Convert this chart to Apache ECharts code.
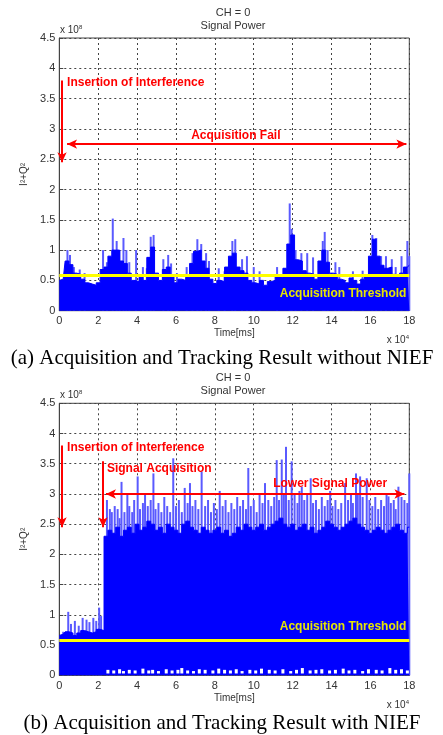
<!DOCTYPE html>
<html>
<head>
<meta charset="utf-8">
<script src="https://cdn.jsdelivr.net/npm/echarts@6/dist/echarts.min.js"></script>
<style>
html, body { margin: 0; padding: 0; background: #fff; }
#chart { width: 443px; height: 735px; }
</style>
</head>
<body>
<div id="chart"></div>
<script>
// time in units of 1e4 ms, power (I^2+Q^2) in units of 1e8
var bodyStep = 0.2;

// (a) without NIEF: dense part of the trace, one value every 0.2
var topBody = [0.5, 0.52, 0.82, 0.76, 0.62, 0.6, 0.52, 0.46, 0.44, 0.42,
    0.46, 0.68, 0.72, 0.9, 1.0, 1.0, 0.82, 0.78, 0.62, 0.5,
    0.48, 0.55, 0.5, 0.88, 1.05, 0.62, 0.5, 0.68, 0.72, 0.56,
    0.46, 0.52, 0.5, 0.55, 0.78, 0.98, 1.0, 0.82, 0.7, 0.52,
    0.45, 0.5, 0.48, 0.72, 0.9, 0.95, 0.72, 0.66, 0.62, 0.5,
    0.46, 0.44, 0.5, 0.42, 0.48, 0.5, 0.56, 0.55, 0.7, 1.1,
    1.25, 0.84, 0.82, 0.66, 0.62, 0.6, 0.52, 0.82, 1.0, 0.8,
    0.62, 0.6, 0.52, 0.5, 0.46, 0.54, 0.5, 0.44, 0.52, 0.58,
    0.9, 1.18, 0.9, 0.75, 0.7, 0.72, 0.6, 0.55, 0.62, 0.72, 0.75];

// (a) isolated peaks [time, power]
var topSpikes = [[0.42, 1.0], [0.55, 0.92], [0.75, 0.72], [1.05, 0.68], [1.3, 0.62],
    [2.25, 1.0], [2.45, 0.8], [2.75, 1.52], [2.95, 1.15], [3.1, 1.0], [3.3, 1.2],
    [3.45, 1.0], [3.6, 0.8], [3.95, 1.0], [4.3, 0.72], [4.5, 0.7], [4.7, 1.22],
    [4.85, 1.25], [5.35, 0.85], [5.6, 0.92], [5.75, 0.78], [6.05, 0.62], [6.55, 0.72],
    [6.85, 0.95], [7.1, 1.18], [7.3, 1.1], [7.55, 0.95], [7.7, 0.82], [8.2, 0.7],
    [8.5, 0.65], [8.9, 1.15], [9.05, 1.18], [9.4, 0.85], [9.65, 0.9], [10.0, 0.72],
    [10.3, 0.65], [11.2, 0.72], [11.85, 1.77], [11.95, 1.35], [12.15, 1.0], [12.45, 0.95],
    [12.75, 0.95], [13.05, 0.88], [13.55, 1.15], [13.65, 1.3], [13.8, 1.0], [14.2, 0.8],
    [14.4, 0.72], [15.1, 0.65], [15.6, 0.66], [16.1, 1.25], [16.3, 1.2], [16.55, 0.9],
    [16.8, 0.9], [17.1, 0.85], [17.3, 0.72], [17.6, 0.9], [17.9, 1.15], [18.0, 0.9]];

// (b) with NIEF: dense part of the trace, one value every 0.2
var botBody = [0.66, 0.68, 0.72, 0.7, 0.66, 0.7, 0.74, 0.72, 0.7, 0.72,
    0.76, 0.74, 2.3, 2.4, 2.35, 2.45, 2.3, 2.4, 2.45, 2.35,
    2.5, 2.4, 2.45, 2.55, 2.5, 2.4, 2.45, 2.35, 2.5, 2.45,
    2.4, 2.35, 2.5, 2.55, 2.45, 2.4, 2.35, 2.45, 2.4, 2.35,
    2.4, 2.45, 2.35, 2.4, 2.3, 2.35, 2.45, 2.4, 2.5, 2.45,
    2.4, 2.45, 2.5, 2.4, 2.45, 2.5, 2.55, 2.6, 2.5, 2.45,
    2.5, 2.4, 2.45, 2.5, 2.4, 2.45, 2.35, 2.4, 2.45, 2.55,
    2.5, 2.45, 2.4, 2.45, 2.5, 2.55, 2.6, 2.5, 2.45, 2.4,
    2.35, 2.4, 2.45, 2.4, 2.35, 2.4, 2.45, 2.5, 2.4, 2.35, 2.45];

// (b) isolated peaks [time, power]
var botSpikes = [[0.2, 0.72], [0.46, 1.05], [0.6, 0.85], [0.8, 0.9], [1.0, 0.82], [1.2, 0.95],
    [1.4, 0.92], [1.55, 0.88], [1.75, 0.95], [1.9, 0.9], [2.05, 1.12], [2.15, 0.98],
    [2.45, 2.9], [2.6, 2.75], [2.7, 2.7], [2.85, 2.8], [3.0, 2.75], [3.1, 2.6], [3.2, 3.2],
    [3.35, 2.7], [3.5, 3.0], [3.6, 2.8], [3.75, 2.7], [3.85, 2.9], [4.03, 3.29], [4.15, 2.75],
    [4.3, 2.85], [4.41, 3.0], [4.55, 2.8], [4.7, 2.9], [4.84, 3.34], [4.95, 2.75], [5.1, 2.85],
    [5.25, 2.7], [5.4, 2.95], [5.55, 2.8], [5.7, 2.7], [5.86, 3.59], [6.0, 2.8], [6.15, 2.9],
    [6.3, 2.7], [6.45, 3.1], [6.6, 2.85], [6.72, 3.18], [6.85, 2.8], [7.0, 2.9], [7.15, 2.75],
    [7.32, 3.37], [7.5, 2.8], [7.65, 2.9], [7.8, 2.7], [7.95, 2.85], [8.1, 2.75], [8.25, 3.05],
    [8.4, 2.8], [8.55, 2.9], [8.7, 2.7], [8.85, 2.85], [9.0, 2.75], [9.15, 2.95], [9.3, 2.8],
    [9.45, 2.9], [9.6, 2.75], [9.72, 3.43], [9.85, 2.8], [10.0, 2.9], [10.15, 2.7], [10.3, 3.0],
    [10.45, 2.85], [10.58, 3.18], [10.75, 2.9], [10.9, 2.8], [11.05, 2.95], [11.18, 3.56],
    [11.3, 2.9], [11.44, 3.57], [11.55, 3.0], [11.66, 3.78], [11.8, 2.9], [11.95, 3.54],
    [12.1, 3.0], [12.25, 2.85], [12.35, 3.05], [12.47, 3.12], [12.6, 2.9], [12.75, 3.0],
    [12.93, 3.26], [13.05, 2.85], [13.2, 2.9], [13.35, 2.75], [13.5, 2.95], [13.65, 2.8],
    [13.8, 2.9], [13.93, 3.05], [14.05, 2.8], [14.2, 2.9], [14.35, 2.75], [14.5, 2.85],
    [14.7, 3.18], [14.85, 2.9], [15.0, 3.0], [15.1, 2.85], [15.26, 3.34], [15.35, 3.0],
    [15.47, 3.29], [15.6, 2.95], [15.81, 3.26], [15.95, 2.9], [16.1, 2.8], [16.25, 2.95],
    [16.4, 2.75], [16.55, 2.9], [16.7, 2.8], [16.83, 3.0], [16.93, 2.96], [17.05, 2.85],
    [17.2, 2.9], [17.3, 2.75], [17.44, 3.12], [17.6, 2.95], [17.75, 2.9], [17.9, 2.85], [18.0, 3.34]];

// (b) white gaps near zero after acquisition
var troughX = [2.5, 2.8, 3.1, 3.3, 3.6, 3.9, 4.3, 4.6, 4.8, 5.1, 5.5, 5.8, 6.1, 6.3, 6.6, 6.9,
    7.2, 7.5, 7.9, 8.2, 8.5, 8.8, 9.1, 9.4, 9.8, 10.1, 10.4, 10.8, 11.1, 11.5, 11.9, 12.2,
    12.5, 12.9, 13.2, 13.5, 13.9, 14.2, 14.6, 14.9, 15.2, 15.6, 15.9, 16.3, 16.6, 17.0, 17.3,
    17.6, 17.9];
var troughH = [0.06, 0.05, 0.07, 0.04, 0.06, 0.05, 0.08, 0.05, 0.06, 0.04, 0.07, 0.05, 0.06,
    0.09, 0.05, 0.04, 0.07, 0.06, 0.05, 0.08, 0.06, 0.05, 0.07, 0.04, 0.06, 0.05, 0.08, 0.06,
    0.05, 0.07, 0.04, 0.06, 0.09, 0.05, 0.06, 0.07, 0.05, 0.06, 0.08, 0.05, 0.06, 0.04, 0.07,
    0.06, 0.05, 0.09, 0.06, 0.07, 0.05];
var troughBase = 0.03;

var threshold = 0.585;
var captions = ['(a) Acquisition and Tracking Result without NIEF',
    '(b) Acquisition and Tracking Result with NIEF'];

var chart = echarts.init(document.getElementById('chart'));

function pairs(vals) {
    return vals.map(function (v, i) { return [+(i * bodyStep).toFixed(2), v]; });
}

var axisFont = { fontSize: 11, color: '#333', fontFamily: 'Liberation Sans, Arial, sans-serif' };
var redLabel = { color: '#ff0000', fontWeight: 'bold', fontSize: 12, fontFamily: 'Liberation Sans, Arial, sans-serif' };
var yellowLabel = { color: '#e6e600', fontWeight: 'bold', fontSize: 12, fontFamily: 'Liberation Sans, Arial, sans-serif' };

function xAxisFor(i) {
    return {
        type: 'value', gridIndex: i, min: 0, max: 18, interval: 2,
        name: 'Time[ms]', nameLocation: 'middle', nameGap: 18,
        nameTextStyle: { fontSize: 10, color: '#333' },
        axisLine: { show: true, lineStyle: { color: '#444' } },
        axisTick: { show: true, inside: true, length: 4, lineStyle: { color: '#444' } },
        axisLabel: Object.assign({ margin: 5 }, axisFont),
        splitLine: { show: true, lineStyle: { color: '#444', type: [2, 3], width: 1 } }
    };
}
function yAxisFor(i) {
    return {
        type: 'value', gridIndex: i, min: 0, max: 4.5, interval: 0.5,
        name: 'I\u00b2+Q\u00b2', nameLocation: 'middle', nameGap: 28,
        nameTextStyle: { fontSize: 10, color: '#333' },
        axisLine: { show: true, lineStyle: { color: '#444' } },
        axisTick: { show: true, inside: true, length: 4, lineStyle: { color: '#444' } },
        axisLabel: Object.assign({ margin: 4 }, axisFont),
        splitLine: { show: true, lineStyle: { color: '#444', type: [2, 3], width: 1 } }
    };
}

function arrow(x1, y1, x2, y2, both) {
    var ls = { color: '#ff0000', width: 2, type: 'solid' };
    return [
        { coord: [x1, y1], symbol: both ? 'arrow' : 'none', symbolSize: [7, 10], lineStyle: ls },
        { coord: [x2, y2], symbol: 'arrow', symbolSize: [7, 10], lineStyle: ls }
    ];
}
function note(x, y, text, pos, style) {
    return {
        coord: [x, y], symbol: 'circle', symbolSize: 0,
        label: Object.assign({ show: true, position: pos, distance: 0, formatter: text }, style)
    };
}
var thresholdLine = { yAxis: threshold, symbol: 'none', lineStyle: { color: '#ffff00', width: 3, type: 'solid' } };

function bodySeries(i, vals, lines, notes) {
    return {
        type: 'line', xAxisIndex: i, yAxisIndex: i, data: pairs(vals), step: 'middle',
        showSymbol: false, silent: true,
        lineStyle: { color: '#0000ff', width: 1 },
        areaStyle: { color: '#0000ff', opacity: 1 },
        markLine: { silent: true, symbol: 'none', label: { show: false }, data: [thresholdLine].concat(lines) },
        markPoint: { silent: true, itemStyle: { color: 'transparent' }, data: notes }
    };
}
function spikeSeries(i, data) {
    return {
        type: 'bar', xAxisIndex: i, yAxisIndex: i, data: data, barWidth: 2,
        itemStyle: { color: '#5a5aff' }, silent: true
    };
}

var option = {
    animation: false,
    grid: [
        { left: 59.3, top: 38, width: 350, height: 272.7, show: true, borderColor: '#444', borderWidth: 1 },
        { left: 59.3, top: 403.3, width: 350, height: 272, show: true, borderColor: '#444', borderWidth: 1 }
    ],
    xAxis: [xAxisFor(0), xAxisFor(1)],
    yAxis: [yAxisFor(0), yAxisFor(1)],
    series: [
        spikeSeries(0, topSpikes),
        bodySeries(0, topBody,
            [arrow(0.14, 3.8, 0.14, 2.45, false), arrow(0.4, 2.75, 17.85, 2.75, true)],
            [note(0.4, 3.76, 'Insertion of Interference', 'right', redLabel),
             note(9.08, 2.88, 'Acquisition Fail', 'inside', redLabel),
             note(17.85, 0.28, 'Acquisition Threshold', 'left', yellowLabel)]),
        spikeSeries(1, botSpikes),
        bodySeries(1, botBody,
            [arrow(0.14, 3.8, 0.14, 2.45, false), arrow(2.25, 3.54, 2.25, 2.45, false),
             arrow(2.4, 3.0, 17.75, 3.0, true)],
            [note(0.4, 3.76, 'Insertion of Interference', 'right', redLabel),
             note(2.45, 3.42, 'Signal Acquisition', 'right', redLabel),
             note(13.93, 3.17, 'Lower Signal Power', 'inside', redLabel),
             note(17.85, 0.8, 'Acquisition Threshold', 'left', yellowLabel)]),
        {
            type: 'custom', xAxisIndex: 1, yAxisIndex: 1, silent: true, z: 5,
            data: troughX.map(function (x, k) { return [x, troughH[k]]; }),
            renderItem: function (params, api) {
                var p0 = api.coord([api.value(0), troughBase]);
                var p1 = api.coord([api.value(0), troughBase + api.value(1)]);
                return {
                    type: 'rect',
                    shape: { x: p0[0] - 1.5, y: p1[1], width: 3, height: p0[1] - p1[1] },
                    style: { fill: '#ffffff' }
                };
            }
        }
    ],
    graphic: [0, 1].map(function (i) {
        var top = i === 0 ? 38 : 403.3;
        var bottom = i === 0 ? 310.7 : 675.3;
        return {
            type: 'group',
            children: [
                { type: 'text', x: 233, y: top - 25, style: { text: 'CH = 0', fill: '#333', font: '11px Liberation Sans', align: 'center', verticalAlign: 'middle' } },
                { type: 'text', x: 233, y: top - 12, style: { text: 'Signal Power', fill: '#333', font: '11px Liberation Sans', align: 'center', verticalAlign: 'middle' } },
                { type: 'text', x: 60, y: top - 8, style: { text: 'x 10{s|8}', rich: { s: { fontSize: 6, verticalAlign: 'top', padding: [0, 0, 6, 0] } }, fill: '#333', font: '10px Liberation Sans', verticalAlign: 'middle' } },
                { type: 'text', x: 409, y: bottom + 30, style: { text: 'x 10{s|4}', rich: { s: { fontSize: 6, padding: [0, 0, 6, 0] } }, fill: '#333', font: '10px Liberation Sans', align: 'right', verticalAlign: 'middle' } },
                { type: 'text', x: 222, y: bottom + 48, style: { text: captions[i], fill: '#000', font: '21px Liberation Serif', align: 'center', verticalAlign: 'middle' } }
            ]
        };
    })
};
chart.setOption(option);
</script>
</body>
</html>
